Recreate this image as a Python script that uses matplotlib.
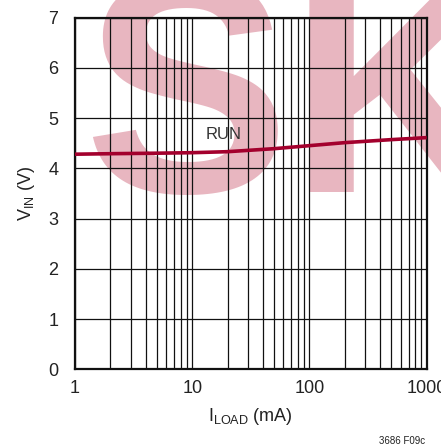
import matplotlib
matplotlib.use("Agg")
import matplotlib.pyplot as plt
from matplotlib import font_manager
import numpy as np

# Data
i_load = [1, 2, 5, 10, 20, 50, 100, 200, 500, 1000]
v_in = [4.28, 4.29, 4.30, 4.31, 4.33, 4.39, 4.45, 4.51, 4.57, 4.61]
y_ticks = [0, 1, 2, 3, 4, 5, 6, 7]
x_ticks = [1, 10, 100, 1000]
x_tick_labels = ["1", "10", "100", "1000"]

names = {f.name for f in font_manager.fontManager.ttflist}
fam = "Liberation Sans Narrow" if "Liberation Sans Narrow" in names else "Liberation Sans"
plt.rcParams['font.family'] = [fam, 'DejaVu Sans']

fig = plt.figure(figsize=(4.41, 4.47), dpi=100)
ax = fig.add_axes([75/441, 1-369.3/447, (426.7-75)/441, (369.3-17.5)/447])
ax.set_facecolor('none')

# watermark
ax.text(0.675, 1-192/447, "SK", transform=fig.transFigure, fontsize=222, fontweight='bold',
        color='#e8b6c0', ha='center', va='baseline', zorder=0.5, clip_on=False,
        family='Liberation Sans')

ax.set_xscale('log')
ax.set_xlim(1, 1000)
ax.set_ylim(0, 7)
ax.set_xticks(x_ticks)
ax.set_xticklabels(x_tick_labels)
ax.set_yticks(y_ticks)
ax.xaxis.set_minor_locator(matplotlib.ticker.LogLocator(base=10, subs=np.arange(2, 10)))
ax.xaxis.set_minor_formatter(matplotlib.ticker.NullFormatter())
ax.tick_params(which='both', length=0, labelsize=13, colors='#222222', pad=8)
ax.tick_params(axis='y', pad=12)
ax.grid(True, which='both', color='#111111', linewidth=0.9)
for s in ax.spines.values():
    s.set_linewidth(1.6)
    s.set_color('#111111')

ax.plot(i_load, v_in, color='#a3002d', linewidth=2.6, zorder=3, solid_capstyle='butt')
ax.text(18.7, 4.67, "RUN", fontsize=12, color='#333333', ha='center', va='center', zorder=4)

ax.set_xlabel(r"I$_{\mathregular{LOAD}}$ (mA)", fontsize=13, color='#222222', labelpad=6)
ax.set_ylabel(r"V$_{\mathregular{IN}}$ (V)", fontsize=13, color='#222222', labelpad=8)
fig.text(425/441, 1-441/447, "3686 F09c", fontsize=7, ha='right', va='center', color='#222222')

fig.savefig("out.png", dpi=100)
